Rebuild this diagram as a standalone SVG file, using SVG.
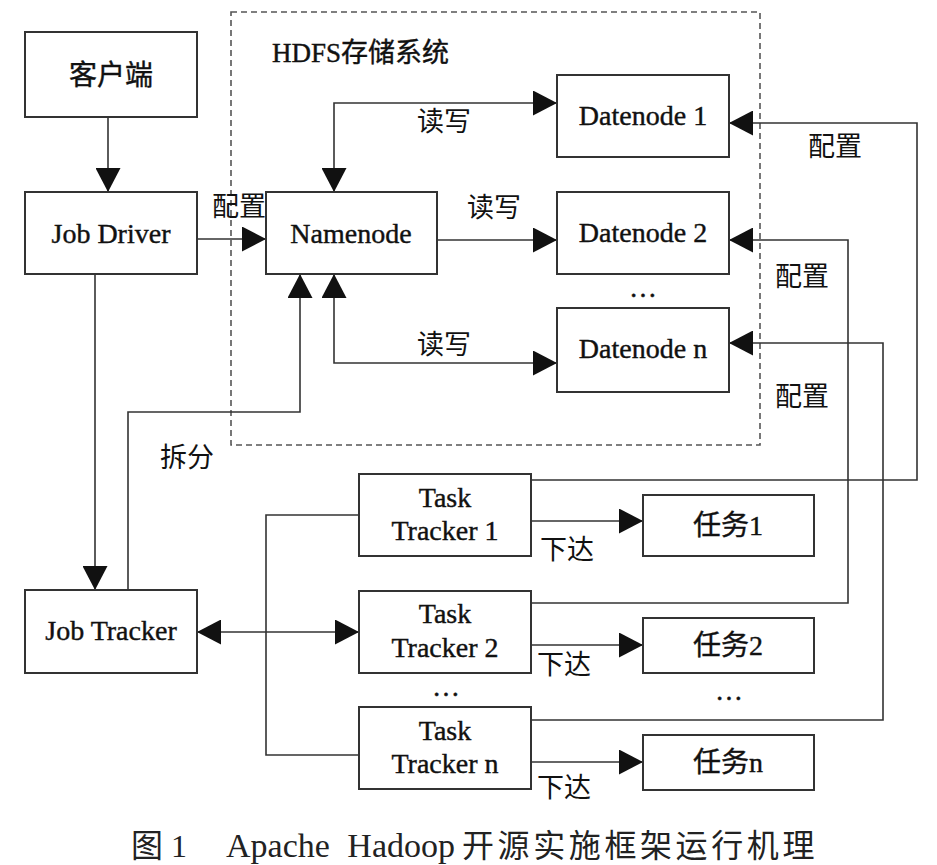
<svg xmlns="http://www.w3.org/2000/svg" width="937" height="865" viewBox="0 0 937 865">
<defs>
<style>
.box{fill:#fff;stroke:#333;stroke-width:2}
.t{font-family:"Liberation Serif","Noto Sans CJK SC",serif;font-size:28px;fill:#111;stroke:#111;stroke-width:0.4;text-anchor:middle}
.l{font-family:"Liberation Serif","Noto Sans CJK SC",serif;font-size:27px;fill:#111}
.c{fill:none;stroke:#333;stroke-width:1.6}
</style>
<marker id="ah" viewBox="0 0 24 25" refX="24" refY="12.5" markerWidth="24" markerHeight="25" markerUnits="userSpaceOnUse" orient="auto-start-reverse">
<path d="M0,0 L24,12.5 L0,25 z" fill="#111"/>
</marker>
</defs>
<rect width="937" height="865" fill="#fff"/>
<g id="hdfs">
<rect x="231" y="12" width="529" height="433" fill="none" stroke="#555" stroke-width="1.6" stroke-dasharray="6,4"/>
<text class="l" x="272" y="62" font-size="28" stroke="#111" stroke-width="0.4">HDFS存储系统</text>
</g>
<g id="connectors">
<path class="c" d="M108,117 V192" marker-end="url(#ah)"/>
<path class="c" d="M197,239 H266" marker-end="url(#ah)"/>
<path class="c" d="M334,192 V103 H557" marker-start="url(#ah)" marker-end="url(#ah)"/>
<path class="c" d="M437,240 H557" marker-end="url(#ah)"/>
<path class="c" d="M334,274 V363 H557" marker-start="url(#ah)" marker-end="url(#ah)"/>
<path class="c" d="M128,590 V412 H300 V274" marker-end="url(#ah)"/>
<path class="c" d="M95,274 V590" marker-end="url(#ah)"/>
<path class="c" d="M197,632 H359" marker-start="url(#ah)" marker-end="url(#ah)"/>
<path class="c" d="M359,515 H266 V755 H359"/>
<path class="c" d="M531,521 H643" marker-end="url(#ah)"/>
<path class="c" d="M531,645 H643" marker-end="url(#ah)"/>
<path class="c" d="M531,762 H643" marker-end="url(#ah)"/>
<path class="c" d="M531,480 H917 V123 H729" marker-end="url(#ah)"/>
<path class="c" d="M531,603 H848 V240 H729" marker-end="url(#ah)"/>
<path class="c" d="M531,720 H883 V343 H729" marker-end="url(#ah)"/>
<text class="l" x="417" y="131">读写</text>
<text class="l" x="467" y="217">读写</text>
<text class="l" x="417" y="354">读写</text>
<text class="l" x="212" y="216">配置</text>
<text class="l" x="808" y="156">配置</text>
<text class="l" x="775" y="286">配置</text>
<text class="l" x="775" y="406">配置</text>
<text class="l" x="160" y="467">拆分</text>
<text class="l" x="540" y="559">下达</text>
<text class="l" x="537" y="674">下达</text>
<text class="l" x="537" y="797">下达</text>
</g>
<g id="client"><rect class="box" x="25" y="32" width="172" height="85"/><text class="t" x="111" y="85">客户端</text></g>
<g id="jobdriver"><rect class="box" x="25" y="192" width="172" height="82"/><text class="t" x="111" y="243">Job Driver</text></g>
<g id="namenode"><rect class="box" x="266" y="192" width="171" height="82"/><text class="t" x="351" y="243">Namenode</text></g>
<g id="datenode1"><rect class="box" x="557" y="75" width="172" height="82"/><text class="t" x="643" y="125">Datenode 1</text></g>
<g id="datenode2"><rect class="box" x="557" y="192" width="172" height="82"/><text class="t" x="643" y="242">Datenode 2</text></g>
<text class="t" x="643" y="297">…</text>
<g id="datenoden"><rect class="box" x="557" y="308" width="172" height="84"/><text class="t" x="643" y="358">Datenode n</text></g>
<g id="jobtracker"><rect class="box" x="25" y="590" width="172" height="83"/><text class="t" x="111" y="640">Job Tracker</text></g>
<g id="tasktracker1"><rect class="box" x="359" y="474" width="172" height="82"/><text class="t" x="445" y="507">Task</text><text class="t" x="445" y="540">Tracker 1</text></g>
<g id="tasktracker2"><rect class="box" x="359" y="591" width="172" height="82"/><text class="t" x="445" y="623">Task</text><text class="t" x="445" y="657">Tracker 2</text></g>
<text class="t" x="446" y="696">…</text>
<g id="tasktrackern"><rect class="box" x="359" y="707" width="172" height="82"/><text class="t" x="445" y="740">Task</text><text class="t" x="445" y="773">Tracker n</text></g>
<g id="task1"><rect class="box" x="643" y="495" width="171" height="61"/><text class="t" x="728" y="535">任务1</text></g>
<g id="task2"><rect class="box" x="643" y="618" width="171" height="55"/><text class="t" x="728" y="655">任务2</text></g>
<text class="t" x="729" y="700">…</text>
<g id="taskn"><rect class="box" x="643" y="735" width="171" height="55"/><text class="t" x="728" y="772">任务n</text></g>
<g id="caption" font-family="'Liberation Serif','Noto Sans CJK SC',serif" font-size="32" fill="#222">
<text x="131" y="857">图 1</text>
<text x="226" y="857" font-size="34" word-spacing="9">Apache Hadoop</text>
<text x="462" y="857" letter-spacing="3.6">开源实施框架运行机理</text>
</g>
</svg>
